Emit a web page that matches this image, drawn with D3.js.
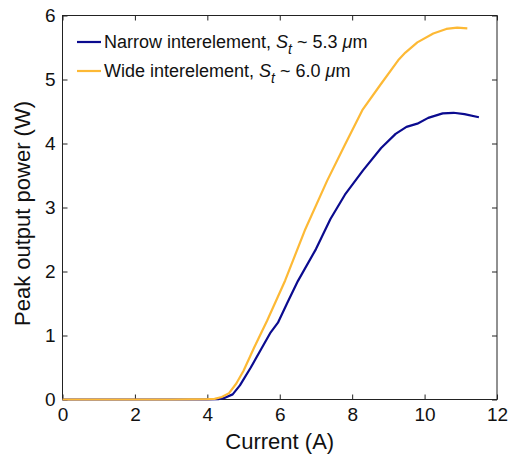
<!DOCTYPE html>
<html><head><meta charset="utf-8">
<script src="https://cdn.jsdelivr.net/npm/d3@7"></script>
<style>body{margin:0;background:#fff}svg{display:block;font-family:"Liberation Sans",Arial,sans-serif}</style>
</head><body><svg id="c" width="512" height="457"></svg>
<script>
const narrowCurrent = [0, 1, 2, 3, 4, 4.3, 4.5, 4.7, 4.9, 5.2, 5.5, 5.75, 5.95, 6.2, 6.5, 7.0, 7.4, 7.8, 8.3, 8.8, 9.2, 9.5, 9.8, 10.1, 10.5, 10.8, 11.1, 11.5];
const narrowPower   = [0, 0, 0, 0, 0, 0.005, 0.03, 0.08, 0.22, 0.5, 0.8, 1.05, 1.2, 1.5, 1.85, 2.35, 2.82, 3.2, 3.58, 3.93, 4.15, 4.26, 4.31, 4.4, 4.47, 4.48, 4.46, 4.41];
const wideCurrent = [0, 1, 2, 3, 4, 4.2, 4.4, 4.6, 4.8, 5.0, 5.3, 5.65, 6.15, 6.69, 7.31, 7.8, 8.28, 8.77, 9.27, 9.47, 9.8, 10.24, 10.6, 10.9, 11.18];
const widePower   = [0, 0, 0, 0, 0.005, 0.01, 0.04, 0.1, 0.25, 0.45, 0.82, 1.23, 1.86, 2.64, 3.42, 3.98, 4.52, 4.91, 5.30, 5.42, 5.58, 5.72, 5.79, 5.81, 5.80];
const xTicks = [0, 2, 4, 6, 8, 10, 12];
const yTicks = [0, 1, 2, 3, 4, 5, 6];
const seriesNames = ["Narrow interelement, ", "Wide interelement, "];
const seriesValuesText = ["5.3", "6.0"];
const seriesColors = ["#0b0b8f", "#fdb935"];

const svg = d3.select("#c");
const L = 62.5, R = 497, T = 15.5, B = 399.5;
const x = d3.scaleLinear().domain([0, 12]).range([L, R]);
const y = d3.scaleLinear().domain([0, 6]).range([B, T]);
const axisColor = "#222";

function styleAxis(g){
  g.select(".domain").remove();
  g.selectAll("line").attr("stroke", axisColor).attr("stroke-width", 1);
  g.selectAll("text").attr("fill", "#111").style("font-size", "19px").style("font-family", "'Liberation Sans', Arial, sans-serif");
}
svg.append("g").attr("transform", `translate(0,${B})`)
  .call(d3.axisBottom(x).tickValues(xTicks).tickSize(-5).tickPadding(8).tickFormat(d3.format("d")))
  .call(styleAxis);
svg.append("g").attr("transform", `translate(0,${T})`)
  .call(d3.axisTop(x).tickValues(xTicks).tickSize(-5).tickFormat(""))
  .call(styleAxis);
svg.append("g").attr("transform", `translate(${L},0)`)
  .call(d3.axisLeft(y).tickValues(yTicks).tickSize(-5).tickPadding(7).tickFormat(d3.format("d")))
  .call(styleAxis);
svg.append("g").attr("transform", `translate(${R},0)`)
  .call(d3.axisRight(y).tickValues(yTicks).tickSize(-5).tickFormat(""))
  .call(styleAxis);
svg.append("rect").attr("x", L).attr("y", T).attr("width", R - L).attr("height", B - T)
  .attr("fill", "none").attr("stroke", axisColor).attr("stroke-width", 1);

const line = d3.line().x(d => x(d[0])).y(d => y(d[1]));
const series = [
  d3.zip(narrowCurrent, narrowPower),
  d3.zip(wideCurrent, widePower)
];
series.forEach((s, i) => {
  svg.append("path").datum(s).attr("d", line).attr("fill", "none")
    .attr("stroke", seriesColors[i]).attr("stroke-width", 2.2).attr("stroke-linejoin", "round");
});

// legend
const legY = [42, 71];
seriesNames.forEach((n, i) => {
  svg.append("line").attr("x1", 77).attr("x2", 101).attr("y1", legY[i]).attr("y2", legY[i])
    .attr("stroke", seriesColors[i]).attr("stroke-width", 2.2);
  const t = svg.append("text").attr("x", 104).attr("y", legY[i] + 6).attr("fill", "#111")
    .style("font-size", "18px");
  t.append("tspan").text(n);
  t.append("tspan").attr("font-style", "italic").text("S");
  t.append("tspan").attr("font-style", "italic").attr("dy", 6).style("font-size", "14px").text("t");
  t.append("tspan").attr("dy", -6).text(" ~ " + seriesValuesText[i] + " ");
  t.append("tspan").attr("font-style", "italic").text("\u03bc");
  t.append("tspan").text("m");
});

// axis titles
svg.append("text").attr("x", (L + R) / 2).attr("y", 449).attr("text-anchor", "middle")
  .attr("fill", "#111").style("font-size", "22px").text("Current (A)");
svg.append("text").attr("transform", `translate(30,${(T + B) / 2 + 6}) rotate(-90)`)
  .attr("text-anchor", "middle").attr("fill", "#111").style("font-size", "22px").text("Peak output power (W)");
</script></body></html>
